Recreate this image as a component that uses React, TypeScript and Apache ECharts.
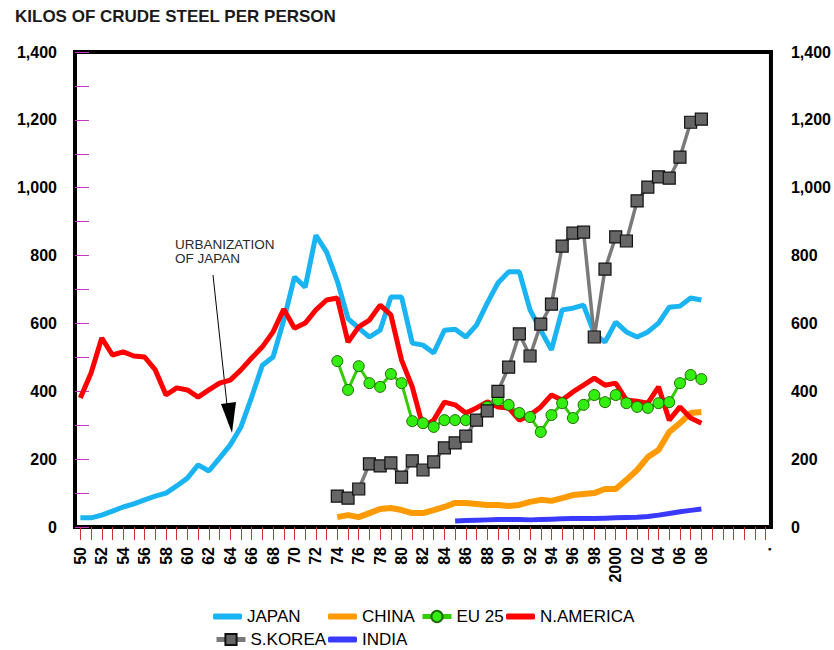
import React, { useEffect, useRef } from "react";
import * as echarts from "echarts";

const FONT = '"Liberation Sans", Arial, sans-serif';

// categories: 1950 .. 2014
const years = Array.from({ length: 65 }, (_, i) => String(1950 + i));
const xTickLabels = [
  "50", "", "52", "", "54", "", "56", "", "58", "",
  "60", "", "62", "", "64", "", "66", "", "68", "",
  "70", "", "72", "", "74", "", "76", "", "78", "",
  "80", "", "82", "", "84", "", "86", "", "88", "",
  "90", "", "92", "", "94", "", "96", "", "98", "",
  "2000", "", "02", "", "04", "", "06", "", "08", "",
  "", "", "", "", ".",
];

const japanStart = 1950;
const japan = [
  27, 27, 35, 47, 59, 68, 80, 91, 100, 121,
  144, 183, 165, 203, 242, 295, 383, 477, 501, 610,
  737, 707, 860, 810, 725, 614, 586, 560, 580, 678,
  678, 542, 536, 513, 580, 583, 560, 595, 660, 719,
  752, 752, 640, 580, 522, 640, 645, 654, 570, 545,
  604, 575, 560, 575, 601, 648, 651, 675, 669,
];

const naStart = 1950;
const nAmerica = [
  380, 454, 557, 507, 516, 504, 501, 463, 389, 410,
  404, 383, 404, 424, 433, 463, 498, 531, 575, 642,
  586, 601, 640, 669, 675, 545, 590, 610, 654, 625,
  492, 413, 295, 315, 368, 360, 336, 351, 369, 354,
  351, 315, 330, 354, 389, 374, 398, 418, 439, 418,
  424, 374, 371, 365, 413, 315, 354, 321, 306,
];

const chinaStart = 1974;
const china = [
  29, 35, 29, 41, 53, 56,
  50, 41, 41, 50, 59, 71, 71, 68, 65, 65,
  62, 65, 74, 80, 77, 85, 94, 97, 100, 112,
  112, 139, 168, 206, 227, 280, 306, 336, 339,
];

const euStart = 1974;
const eu25 = [
  489, 404, 474, 424, 413, 451,
  424, 312, 306, 295, 315, 315, 315, 315, 354, 374,
  360, 336, 324, 280, 330, 365, 321, 360, 389, 368,
  389, 365, 354, 351, 365, 368, 424, 448, 436,
];

const koreaStart = 1974;
const sKorea = [
  91, 85, 112, 186, 180, 189,
  147, 195, 168, 192, 233, 248, 268, 315, 342, 400,
  471, 569, 504, 598, 657, 828, 866, 869, 560, 760,
  855, 843, 961, 1002, 1032, 1028, 1090, 1193, 1202,
];

const indiaStart = 1985;
const india = [
  18, 19, 20, 21, 22, 22, 22, 21, 22, 23, 24, 25, 25, 25, 26,
  27, 28, 29, 31, 35, 40, 45, 49, 53,
];

const yMin = 0;
const yMax = 1400;
const yLabelStep = 200;
const yTickStep = 100;

function align(start: number, values: number[]) {
  return years.map((y) => {
    const i = Number(y) - start;
    return i >= 0 && i < values.length ? values[i] : null;
  });
}

const fmtY = (v: number) => v.toLocaleString("en-US");

export default function App() {
  const ref = useRef<HTMLDivElement>(null);

  useEffect(() => {
    document.body.style.margin = "0";
    if (!ref.current) return;
    const chart = echarts.init(ref.current, undefined, { renderer: "svg" });

    const axisLabelStyle = {
      fontFamily: FONT,
      fontWeight: "bold" as const,
      fontSize: 16,
      color: "#000",
    };

    const legendBase = {
      padding: 0,
      itemWidth: 29,
      itemHeight: 14,
      selectedMode: false,
      textStyle: { fontFamily: FONT, fontSize: 17, color: "#000" },
    };
    const plainLegend = { ...legendBase, itemHeight: 6 };
    const markerLegend = { ...legendBase, lineStyle: { width: 5 } };

    chart.setOption({
      animation: false,
      backgroundColor: "#ffffff",
      title: {
        text: "KILOS OF CRUDE STEEL PER PERSON",
        left: 15,
        top: 8,
        padding: 0,
        textStyle: {
          fontFamily: FONT,
          fontWeight: "bold",
          fontSize: 17,
          color: "#1a1a1a",
        },
      },
      grid: {
        left: 75,
        right: 59,
        top: 52,
        bottom: 123,
        show: true,
        borderColor: "#000",
        borderWidth: 4,
        backgroundColor: "transparent",
      },
      xAxis: {
        type: "category",
        data: years,
        boundaryGap: true,
        axisLine: { show: false },
        axisTick: {
          show: true,
          alignWithLabel: true,
          interval: 0,
          length: 13,
          lineStyle: { color: "#d03030", width: 1 },
        },
        axisLabel: {
          ...axisLabelStyle,
          interval: 0,
          rotate: 90,
          margin: 20,
          formatter: (_v: string, i: number) => xTickLabels[i],
        },
        splitLine: { show: false },
      },
      yAxis: [
        {
          type: "value",
          min: yMin,
          max: yMax,
          interval: yLabelStep,
          position: "left",
          axisLine: { show: false },
          axisTick: { show: false },
          splitLine: { show: false },
          axisLabel: { ...axisLabelStyle, margin: 18, formatter: fmtY },
        },
        {
          type: "value",
          min: yMin,
          max: yMax,
          interval: yLabelStep,
          position: "right",
          axisLine: { show: false },
          axisTick: { show: false },
          splitLine: { show: false },
          axisLabel: { ...axisLabelStyle, margin: 20, formatter: fmtY },
        },
        {
          // tick marks only: sits 14px inside the plot, ticks point back to the frame
          type: "value",
          min: yMin,
          max: yMax,
          interval: yTickStep,
          position: "left",
          offset: -14,
          axisLine: { show: false },
          axisTick: {
            show: true,
            inside: false,
            length: 14,
            lineStyle: { color: "#cc33cc", width: 1 },
          },
          splitLine: { show: false },
          axisLabel: { show: false },
        },
      ],
      legend: [
        { ...plainLegend, left: 213, top: 608, data: [{ name: "JAPAN", icon: "roundRect" }] },
        { ...plainLegend, left: 328, top: 608, data: [{ name: "CHINA", icon: "roundRect" }] },
        { ...markerLegend, left: 420, top: 608, data: ["EU 25"] },
        { ...plainLegend, left: 506, top: 608, data: [{ name: "N.AMERICA", icon: "roundRect" }] },
        { ...markerLegend, left: 214, top: 631, data: ["S.KOREA"] },
        { ...plainLegend, left: 328, top: 631, data: [{ name: "INDIA", icon: "roundRect" }] },
      ],
      series: [
        {
          name: "JAPAN",
          type: "line",
          data: align(japanStart, japan),
          symbol: "none",
          lineStyle: { width: 5, color: "#1ab4f2" },
          itemStyle: { color: "#1ab4f2" },
        },
        {
          name: "CHINA",
          type: "line",
          data: align(chinaStart, china),
          symbol: "none",
          lineStyle: { width: 6, color: "#ff9a00" },
          itemStyle: { color: "#ff9a00" },
        },
        {
          name: "EU 25",
          type: "line",
          data: align(euStart, eu25),
          symbol: "circle",
          symbolSize: 11,
          lineStyle: { width: 3, color: "#33cc00" },
          itemStyle: { color: "#33ee11", borderColor: "#1f6a00", borderWidth: 1 },
        },
        {
          name: "N.AMERICA",
          type: "line",
          data: align(naStart, nAmerica),
          symbol: "none",
          lineStyle: { width: 5, color: "#ff0000" },
          itemStyle: { color: "#ff0000" },
        },
        {
          name: "S.KOREA",
          type: "line",
          data: align(koreaStart, sKorea),
          symbol: "rect",
          symbolSize: 12,
          lineStyle: { width: 3.5, color: "#7a7a7a" },
          itemStyle: { color: "#666666", borderColor: "#111111", borderWidth: 1.2 },
        },
        {
          name: "INDIA",
          type: "line",
          data: align(indiaStart, india),
          symbol: "none",
          lineStyle: { width: 5, color: "#3a3aff" },
          itemStyle: { color: "#3a3aff" },
        },
      ],
      graphic: [
        {
          type: "text",
          left: 175,
          top: 237,
          style: {
            text: "URBANIZATION\nOF JAPAN",
            font: `13.5px ${FONT}`,
            fill: "#2a2a2a",
            lineHeight: 14,
          },
        },
        {
          type: "line",
          shape: { x1: 213, y1: 275, x2: 227, y2: 405 },
          style: { stroke: "#000", lineWidth: 1 },
        },
        {
          type: "polygon",
          shape: { points: [[221, 404], [236, 402], [232, 433]] },
          style: { fill: "#000" },
        },
      ],
    });

    return () => chart.dispose();
  }, []);

  return <div ref={ref} style={{ width: 834, height: 650 }} />;
}
